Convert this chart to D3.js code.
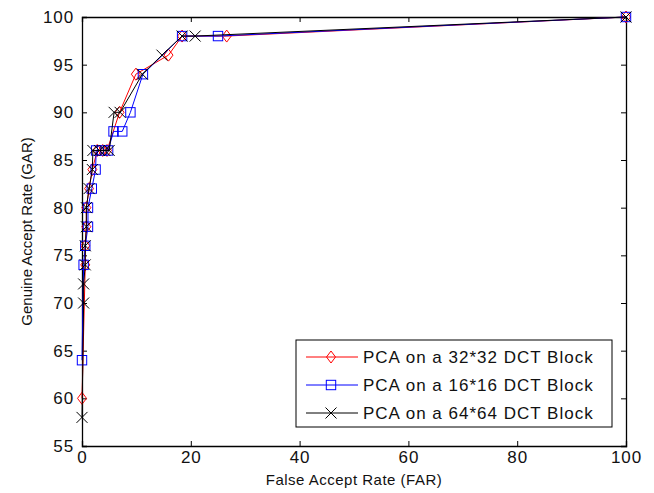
<!DOCTYPE html>
<html>
<head>
<meta charset="utf-8">
<script src="https://cdn.jsdelivr.net/npm/d3@7"></script>
<style>
  body { margin: 0; background: #fff; }
  svg { display: block; font-family: "Liberation Sans", Arial, sans-serif; }
</style>
</head>
<body>
<svg id="chart" width="654" height="493"></svg>
<script>
// ROC-style curves: False Accept Rate (x) vs Genuine Accept Rate (y)
const far32 = [0, 0.6, 0.6, 0.8, 0.8, 1.3, 1.9, 2.8, 3.8, 4.6, 6.9, 9.9, 15.9, 18.4, 26.6, 100];
const gar32 = [60, 74, 76, 78, 80, 82, 84, 86, 86, 86, 90, 94, 96, 98, 98, 100];

const far16 = [0, 0.3, 0.6, 1.1, 1.1, 1.8, 2.5, 2.6, 3.7, 4.8, 5.8, 7.4, 8.9, 11.2, 18.4, 25, 100];
const gar16 = [64, 74, 76, 78, 80, 82, 84, 86, 86, 86, 88, 88, 90, 94, 98, 98, 100];

const far64 = [0, 0.3, 0.3, 0.6, 0.6, 0.8, 0.8, 1.3, 1.9, 2.0, 3.2, 4.2, 5.0, 5.9, 7.0, 11.1, 14.7, 18.4, 20.8, 100];
const gar64 = [58, 70, 72, 74, 76, 78, 80, 82, 84, 86, 86, 86, 86, 90, 90, 94, 96, 98, 98, 100];

const seriesNames = ["PCA on a 32*32 DCT Block", "PCA on a 16*16 DCT Block", "PCA on a 64*64 DCT Block"];
const xTicks = [0, 20, 40, 60, 80, 100];
const yTicks = [55, 60, 65, 70, 75, 80, 85, 90, 95, 100];

const series = [
  { name: seriesNames[0], far: far32, gar: gar32, color: "#ff0000", marker: "diamond" },
  { name: seriesNames[1], far: far16, gar: gar16, color: "#0000ff", marker: "square" },
  { name: seriesNames[2], far: far64, gar: gar64, color: "#000000", marker: "cross" }
];

const svg = d3.select("#chart");
const m = { left: 82, right: 28, top: 17, bottom: 47 };
const W = 654, H = 493;
const x = d3.scaleLinear().domain([0, 100]).range([m.left, W - m.right]);
const y = d3.scaleLinear().domain([55, 100]).range([H - m.bottom, m.top]);

const tickFont = { size: "17px", spacing: "0.9px" };

// axes: ticks point inwards, box drawn on all sides
const gx = svg.append("g").attr("transform", `translate(0,${y(55)})`)
  .call(d3.axisBottom(x).tickValues(xTicks).tickSize(-5).tickPadding(5).tickFormat(d3.format("d")));
const gxTop = svg.append("g").attr("transform", `translate(0,${y(100)})`)
  .call(d3.axisTop(x).tickValues(xTicks).tickSize(-5).tickFormat(""));
const gy = svg.append("g").attr("transform", `translate(${x(0)},0)`)
  .call(d3.axisLeft(y).tickValues(yTicks).tickSize(-5).tickPadding(8).tickFormat(d3.format("d")));
const gyRight = svg.append("g").attr("transform", `translate(${x(100)},0)`)
  .call(d3.axisRight(y).tickValues(yTicks).tickSize(-5).tickFormat(""));

[gx, gxTop, gy, gyRight].forEach(g => {
  g.select(".domain").attr("stroke", "#000").attr("stroke-width", 1.3);
  g.selectAll(".tick line").attr("stroke", "#000");
  g.selectAll(".tick text")
    .attr("fill", "#111")
    .style("font-size", tickFont.size)
    .style("letter-spacing", tickFont.spacing)
    .style("font-family", "'Liberation Sans', Arial, sans-serif");
});

// axis titles
svg.append("text")
  .attr("x", (x(0) + x(100)) / 2).attr("y", 485)
  .attr("text-anchor", "middle")
  .style("font-size", "15px").style("letter-spacing", "0.5px")
  .attr("fill", "#111")
  .text("False Accept Rate (FAR)");

svg.append("text")
  .attr("transform", `translate(32,${(y(55) + y(100)) / 2}) rotate(-90)`)
  .attr("text-anchor", "middle")
  .style("font-size", "15px").style("letter-spacing", "0px")
  .attr("fill", "#111")
  .text("Genuine Accept Rate (GAR)");

// marker shapes
function drawMarker(g, kind, cx, cy, color) {
  if (kind === "diamond") {
    g.append("path")
      .attr("d", `M${cx},${cy - 6} L${cx + 4.5},${cy} L${cx},${cy + 6} L${cx - 4.5},${cy} Z`)
      .attr("fill", "none").attr("stroke", color).attr("stroke-width", 1);
  } else if (kind === "square") {
    g.append("rect")
      .attr("x", cx - 4.7).attr("y", cy - 4.7).attr("width", 9.4).attr("height", 9.4)
      .attr("fill", "none").attr("stroke", color).attr("stroke-width", 1);
  } else {
    g.append("path")
      .attr("d", `M${cx - 5.5},${cy - 5.5} L${cx + 5.5},${cy + 5.5} M${cx - 5.5},${cy + 5.5} L${cx + 5.5},${cy - 5.5}`)
      .attr("fill", "none").attr("stroke", color).attr("stroke-width", 1);
  }
}

const line = d3.line().x(d => x(d[0])).y(d => y(d[1]));

series.forEach(s => {
  const pts = s.far.map((f, i) => [f, s.gar[i]]);
  const g = svg.append("g");
  g.append("path").datum(pts)
    .attr("d", line)
    .attr("fill", "none").attr("stroke", s.color).attr("stroke-width", 1);
  pts.forEach(p => drawMarker(g, s.marker, x(p[0]), y(p[1]), s.color));
});

// legend
const lg = svg.append("g");
const lx = 296, ly = 340, lw = 316, lh = 87;
lg.append("rect").attr("x", lx).attr("y", ly).attr("width", lw).attr("height", lh)
  .attr("fill", "#fff").attr("stroke", "#000").attr("stroke-width", 1);
series.forEach((s, i) => {
  const ry = ly + 17 + i * 28;
  lg.append("line").attr("x1", lx + 10).attr("x2", lx + 62).attr("y1", ry).attr("y2", ry)
    .attr("stroke", s.color).attr("stroke-width", 1);
  drawMarker(lg, s.marker, lx + 35, ry, s.color);
  lg.append("text").attr("x", lx + 67).attr("y", ry + 6)
    .style("font-size", "17px").style("letter-spacing", "1px")
    .attr("fill", "#111")
    .text(s.name);
});
</script>
</body>
</html>
